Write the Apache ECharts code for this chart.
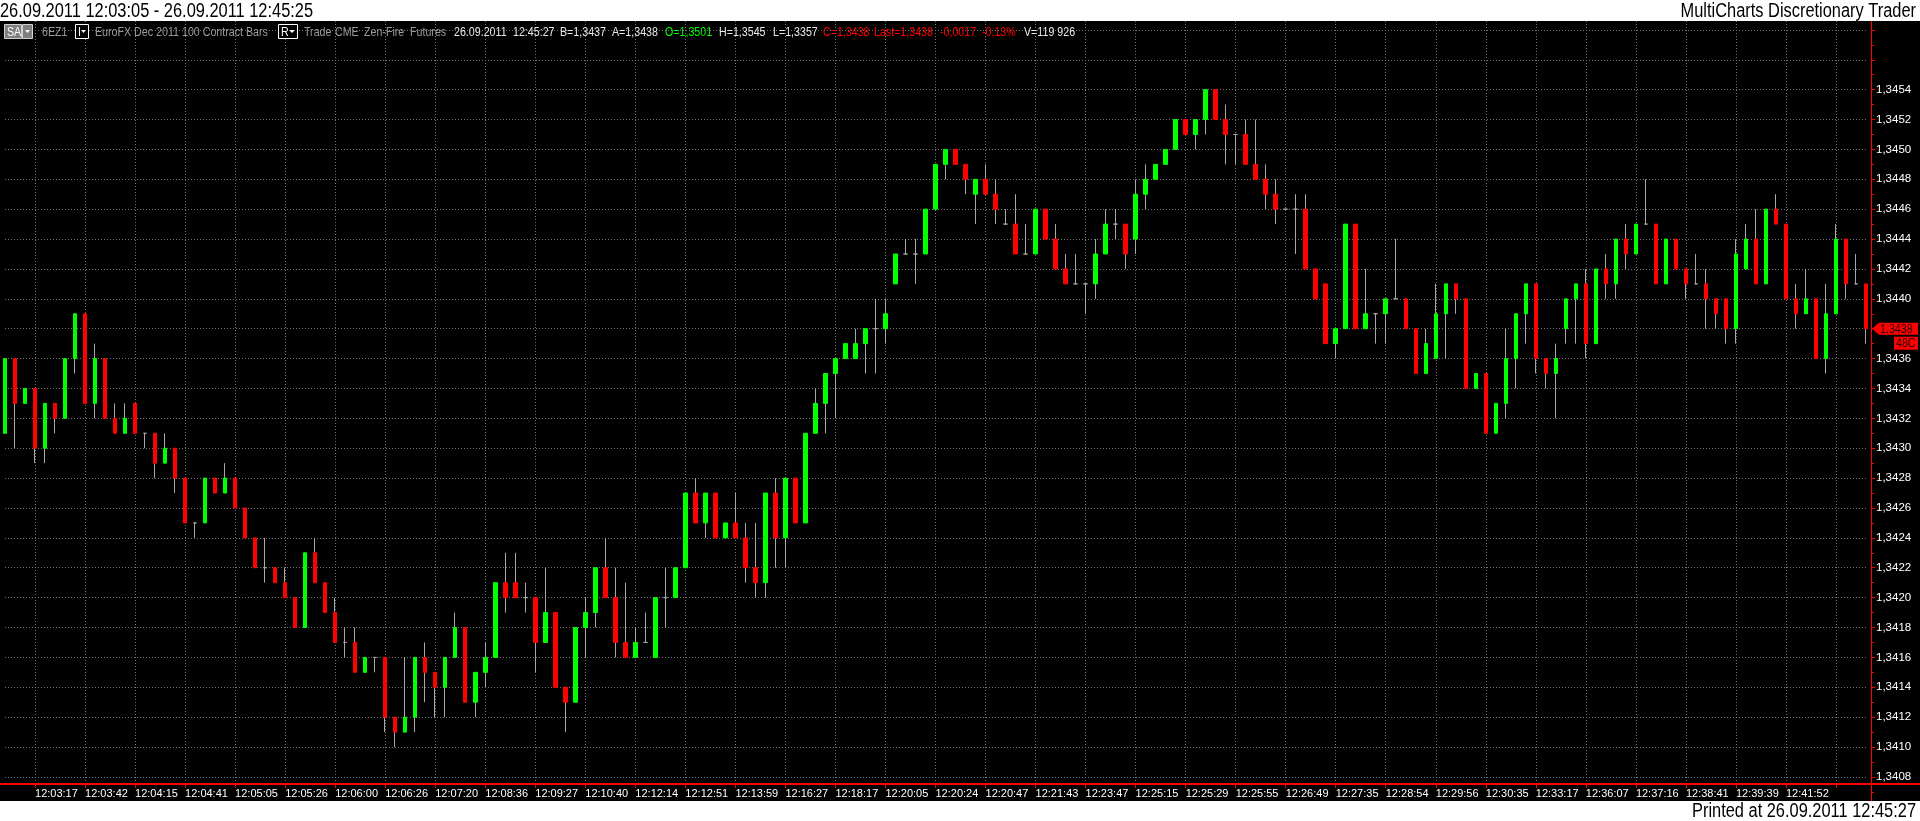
<!DOCTYPE html>
<html><head><meta charset="utf-8">
<script src="https://cdn.jsdelivr.net/npm/echarts@6/dist/echarts.min.js"></script>
<style>html,body{margin:0;padding:0;background:#fff;overflow:hidden}#c{width:1920px;height:821px}</style>
</head><body><div id="c"></div>
<script>
// ---- data (6EZ1, 100 contract bars) ----
const opens = [
1.3431,1.3436,1.3433,1.3434,1.3430,1.3433,1.3432,1.3436,1.3439,1.3433,
1.3436,1.3432,1.3431,1.3433,1.3431,1.3431,1.3429,1.3430,1.3428,1.3425,
1.3425,1.3428,1.3427,1.3428,1.3426,1.3424,1.3422,1.3422,1.3421,1.3420,
1.3418,1.3423,1.3421,1.3419,1.3417,1.3417,1.3415,1.3416,1.3416,1.3412,
1.3411,1.3412,1.3416,1.3415,1.3414,1.3416,1.3418,1.3413,1.3415,1.3416,
1.3421,1.3421,1.3420,1.3420,1.3417,1.3419,1.3414,1.3413,1.3418,1.3419,
1.3422,1.3420,1.3417,1.3416,1.3417,1.3416,1.3420,1.3420,1.3422,1.3427,
1.3425,1.3427,1.3424,1.3425,1.3424,1.3422,1.3421,1.3427,1.3424,1.3428,
1.3425,1.3431,1.3433,1.3435,1.3436,1.3436,1.3437,1.3438,1.3438,1.3441,
1.3443,1.3443,1.3443,1.3446,1.3449,1.3450,1.3449,1.3447,1.3448,1.3447,
1.3445,1.3445,1.3443,1.3443,1.3446,1.3444,1.3442,1.3441,1.3441,1.3441,
1.3443,1.3445,1.3445,1.3444,1.3447,1.3448,1.3449,1.3450,1.3452,1.3451,
1.3452,1.3454,1.3452,1.3451,1.3451,1.3449,1.3448,1.3447,1.3446,1.3446,
1.3446,1.3442,1.3441,1.3437,1.3438,1.3445,1.3438,1.3439,1.3439,1.3440,
1.3440,1.3438,1.3435,1.3436,1.3439,1.3441,1.3440,1.3434,1.3435,1.3431,
1.3433,1.3436,1.3439,1.3441,1.3436,1.3435,1.3438,1.3440,1.3441,1.3437,
1.3442,1.3441,1.3444,1.3443,1.3445,1.3445,1.3441,1.3444,1.3442,1.3441,
1.3441,1.3440,1.3440,1.3438,1.3442,1.3444,1.3441,1.3446,1.3445,1.3440,
1.3439,1.3440,1.3436,1.3439,1.3444,1.3441,1.3441];
const closes = [
1.3436,1.3433,1.3434,1.3430,1.3433,1.3432,1.3436,1.3439,1.3433,1.3436,
1.3432,1.3431,1.3432,1.3431,1.3431,1.3429,1.3430,1.3428,1.3425,1.3425,
1.3428,1.3427,1.3428,1.3426,1.3424,1.3422,1.3422,1.3421,1.3420,1.3418,
1.3423,1.3421,1.3419,1.3417,1.3417,1.3415,1.3416,1.3416,1.3412,1.3411,
1.3412,1.3416,1.3415,1.3414,1.3416,1.3418,1.3413,1.3415,1.3416,1.3421,
1.3420,1.3420,1.3420,1.3417,1.3419,1.3414,1.3413,1.3418,1.3419,1.3422,
1.3420,1.3417,1.3416,1.3417,1.3417,1.3420,1.3420,1.3422,1.3427,1.3425,
1.3427,1.3424,1.3425,1.3424,1.3422,1.3421,1.3427,1.3424,1.3428,1.3425,
1.3431,1.3433,1.3435,1.3436,1.3437,1.3437,1.3438,1.3438,1.3439,1.3443,
1.3443,1.3443,1.3446,1.3449,1.3450,1.3449,1.3448,1.3448,1.3447,1.3446,
1.3445,1.3443,1.3443,1.3446,1.3444,1.3442,1.3441,1.3441,1.3441,1.3443,
1.3445,1.3445,1.3443,1.3447,1.3448,1.3449,1.3450,1.3452,1.3451,1.3452,
1.3454,1.3452,1.3451,1.3451,1.3449,1.3448,1.3447,1.3446,1.3446,1.3446,
1.3442,1.3440,1.3437,1.3438,1.3445,1.3438,1.3439,1.3439,1.3440,1.3440,
1.3438,1.3435,1.3437,1.3439,1.3441,1.3440,1.3434,1.3435,1.3431,1.3433,
1.3436,1.3439,1.3441,1.3436,1.3435,1.3436,1.3440,1.3441,1.3437,1.3442,
1.3441,1.3444,1.3443,1.3445,1.3445,1.3441,1.3444,1.3442,1.3441,1.3441,
1.3440,1.3439,1.3438,1.3443,1.3444,1.3441,1.3446,1.3445,1.3440,1.3439,
1.3440,1.3436,1.3439,1.3444,1.3441,1.3441,1.3438];
const lows = [
1.3431,1.3430,1.3433,1.3429,1.3429,1.3431,1.3432,1.3435,1.3433,1.3432,
1.3432,1.3431,1.3431,1.3431,1.3430,1.3428,1.3429,1.3427,1.3425,1.3424,
1.3425,1.3427,1.3427,1.3426,1.3424,1.3422,1.3421,1.3421,1.3420,1.3418,
1.3418,1.3421,1.3419,1.3417,1.3416,1.3415,1.3415,1.3415,1.3411,1.3410,
1.3411,1.3411,1.3413,1.3412,1.3412,1.3416,1.3413,1.3412,1.3414,1.3416,
1.3419,1.3420,1.3419,1.3415,1.3417,1.3414,1.3411,1.3413,1.3416,1.3418,
1.3420,1.3416,1.3416,1.3416,1.3417,1.3416,1.3418,1.3420,1.3422,1.3425,
1.3424,1.3424,1.3424,1.3424,1.3421,1.3420,1.3420,1.3422,1.3422,1.3425,
1.3425,1.3431,1.3431,1.3432,1.3436,1.3436,1.3435,1.3435,1.3437,1.3441,
1.3443,1.3441,1.3443,1.3446,1.3448,1.3449,1.3447,1.3445,1.3447,1.3445,
1.3445,1.3443,1.3443,1.3443,1.3444,1.3442,1.3441,1.3441,1.3439,1.3440,
1.3443,1.3444,1.3442,1.3443,1.3446,1.3448,1.3449,1.3450,1.3451,1.3450,
1.3451,1.3452,1.3449,1.3449,1.3449,1.3448,1.3446,1.3445,1.3446,1.3443,
1.3442,1.3440,1.3437,1.3436,1.3438,1.3438,1.3438,1.3437,1.3437,1.3440,
1.3438,1.3435,1.3435,1.3436,1.3436,1.3439,1.3434,1.3434,1.3431,1.3431,
1.3432,1.3434,1.3437,1.3435,1.3434,1.3432,1.3437,1.3437,1.3436,1.3437,
1.3440,1.3440,1.3442,1.3443,1.3445,1.3441,1.3441,1.3442,1.3440,1.3441,
1.3438,1.3438,1.3437,1.3437,1.3442,1.3441,1.3441,1.3445,1.3440,1.3438,
1.3439,1.3436,1.3435,1.3439,1.3440,1.3441,1.3437];
const highs = [
1.3436,1.3436,1.3434,1.3434,1.3433,1.3433,1.3436,1.3439,1.3439,1.3437,
1.3436,1.3433,1.3433,1.3433,1.3431,1.3431,1.3431,1.3430,1.3428,1.3425,
1.3428,1.3428,1.3429,1.3428,1.3426,1.3424,1.3424,1.3422,1.3422,1.3420,
1.3423,1.3424,1.3421,1.3420,1.3418,1.3418,1.3416,1.3416,1.3416,1.3412,
1.3416,1.3416,1.3417,1.3415,1.3416,1.3419,1.3418,1.3415,1.3417,1.3421,
1.3423,1.3423,1.3421,1.3420,1.3422,1.3419,1.3414,1.3418,1.3420,1.3422,
1.3424,1.3422,1.3421,1.3418,1.3419,1.3420,1.3422,1.3422,1.3427,1.3428,
1.3427,1.3427,1.3425,1.3427,1.3425,1.3425,1.3427,1.3428,1.3428,1.3428,
1.3431,1.3434,1.3435,1.3436,1.3437,1.3438,1.3438,1.3440,1.3440,1.3443,
1.3444,1.3444,1.3446,1.3449,1.3450,1.3450,1.3449,1.3448,1.3449,1.3448,
1.3446,1.3447,1.3445,1.3446,1.3446,1.3445,1.3443,1.3443,1.3441,1.3444,
1.3446,1.3446,1.3445,1.3448,1.3449,1.3449,1.3450,1.3452,1.3452,1.3452,
1.3454,1.3454,1.3453,1.3451,1.3452,1.3452,1.3449,1.3448,1.3446,1.3447,
1.3447,1.3442,1.3441,1.3438,1.3445,1.3445,1.3442,1.3439,1.3440,1.3444,
1.3440,1.3438,1.3438,1.3441,1.3441,1.3441,1.3440,1.3435,1.3435,1.3433,
1.3438,1.3439,1.3441,1.3441,1.3436,1.3437,1.3440,1.3441,1.3442,1.3442,
1.3443,1.3444,1.3445,1.3445,1.3448,1.3445,1.3444,1.3444,1.3442,1.3443,
1.3442,1.3440,1.3440,1.3444,1.3445,1.3446,1.3446,1.3447,1.3445,1.3441,
1.3442,1.3440,1.3441,1.3445,1.3444,1.3443,1.3441];
// time labels shown every 5th bar, starting at bar index 3
const tickTimes = ['12:03:17','12:03:42','12:04:15','12:04:41','12:05:05','12:05:26','12:06:00','12:06:26',
'12:07:20','12:08:36','12:09:27','12:10:40','12:12:14','12:12:51','12:13:59','12:16:27','12:18:17',
'12:20:05','12:20:24','12:20:47','12:21:43','12:23:47','12:25:15','12:25:29','12:25:55','12:26:49',
'12:27:35','12:28:54','12:29:56','12:30:35','12:33:17','12:36:07','12:37:16','12:38:41','12:39:39','12:41:52'];
const firstTick = 3, tickStep = 5;

const categories = opens.map((_, i) => String(i + 1));
const wickData = opens.map((o, i) => [o, closes[i], lows[i], highs[i]]);
const bodyData = opens.map((o, i) => [o, closes[i], Math.min(o, closes[i]), Math.max(o, closes[i])]);

const SANS = '"Liberation Sans",Arial,sans-serif';
const NARROW_SCALE = 0.82;
const GREEN = '#00ff00', RED = '#ff0000', WICK = '#a8a8a8', GRIDC = '#747474';
const showTick = (i) => i >= firstTick && (i - firstTick) % tickStep === 0;
const fmtPrice = (v) => v.toFixed(4).replace('.', ',');

const chart = echarts.init(document.getElementById('c'), null, {renderer: 'canvas'});
const gridL = 5, gridR = 54;
chart.setOption({
  animation: false,
  backgroundColor: '#000',
  grid: [
    {left: gridL, right: gridR, top: -6.35, bottom: 14.2, containLabel: false},
    {left: gridL, right: gridR, top: 21, bottom: 37, containLabel: false}
  ],
  xAxis: [
    {type: 'category', gridIndex: 0, data: categories, boundaryGap: false, show: false},
    {type: 'category', gridIndex: 1, data: categories, boundaryGap: false,
      axisLine: {show: true, lineStyle: {color: RED, width: 2}},
      axisTick: {show: true, interval: showTick, length: 4, lineStyle: {color: RED}},
      axisLabel: {interval: showTick, align: 'left', margin: 4, color: '#fff',
        fontFamily: SANS, fontSize: 11, showMinLabel: true, showMaxLabel: true,
        formatter: (v, i) => showTick(i) ? tickTimes[(i - firstTick) / tickStep] || '' : ''},
      splitLine: {show: true, interval: showTick, lineStyle: {color: GRIDC, type: [1, 2], width: 1}}
    }
  ],
  yAxis: [
    {type: 'value', gridIndex: 0, position: 'right', offset: 5, min: 1.3406, max: 1.3460, interval: 0.0002,
      axisLine: {show: true, lineStyle: {color: RED, width: 1}},
      axisTick: {show: true, length: 4, lineStyle: {color: RED}},
      minorTick: {show: true, splitNumber: 2, length: 3, lineStyle: {color: RED}},
      axisLabel: {color: '#fff', fontFamily: SANS, fontSize: 11.5, margin: 5,
        formatter: (v) => (v < 1.34065 || v > 1.34545) ? '' : fmtPrice(v)},
      splitLine: {show: true, lineStyle: {color: GRIDC, type: [1, 2], width: 1}}
    },
    {type: 'value', gridIndex: 1, show: false, splitLine: {show: false}}
  ],
  series: [
    {type: 'candlestick', name: 'wick', xAxisIndex: 0, yAxisIndex: 0, data: wickData, barWidth: 1, clip: false,
      itemStyle: {color: WICK, color0: WICK, borderColor: WICK, borderColor0: WICK, borderColorDoji: WICK, borderWidth: 1}},
    {type: 'candlestick', name: '6EZ1', xAxisIndex: 0, yAxisIndex: 0, data: bodyData, barWidth: 4, clip: false,
      itemStyle: {color: GREEN, color0: RED, borderColor: GREEN, borderColor0: RED, borderColorDoji: WICK, borderWidth: 1}}
  ]
});

const lastClose = closes[closes.length - 1];
const yLast = chart.convertToPixel({yAxisIndex: 0}, lastClose);
const axisX = chart.convertToPixel({xAxisIndex: 0}, categories[categories.length - 1]) + 5;

// narrow text (Arial Narrow look) = Liberation Sans squeezed horizontally
function txt(x, y, s, color, size, align) {
  return {type: 'text', z: 110, x: x, y: y, scaleX: NARROW_SCALE, scaleY: 1,
    style: {text: s, x: 0, y: 0, fill: color, font: size + 'px ' + SANS,
      align: align || 'left', textAlign: align || 'left', verticalAlign: 'middle', textVerticalAlign: 'middle'}};
}
const TB = 32, GRAY = '#9a9a9a', WHITE = '#e8e8e8';
const graphics = [
  {type: 'rect', z: 100, shape: {x: 0, y: 0, width: 1920, height: 21}, style: {fill: '#fff'}},
  {type: 'rect', z: 100, shape: {x: 0, y: 801, width: 1920, height: 20}, style: {fill: '#fff'}},
  {type: 'line', z: 105, shape: {x1: 0, y1: 784, x2: 1920, y2: 784}, style: {stroke: RED, lineWidth: 2}},
  {type: 'line', z: 105, shape: {x1: axisX + 0.5, y1: 21, x2: axisX + 0.5, y2: 801}, style: {stroke: RED, lineWidth: 1}},
  txt(0, 11, '26.09.2011 12:03:05 - 26.09.2011 12:45:25', '#000', 20),
  txt(1916, 11, 'MultiCharts Discretionary Trader', '#000', 20, 'right'),
  txt(1916, 811, 'Printed at 26.09.2011 12:45:27', '#000', 20, 'right'),
  // toolbar
  {type: 'rect', z: 106, shape: {x: 4.5, y: 24.5, width: 17, height: 14}, style: {fill: '#808080', stroke: '#d0d0d0'}},
  txt(7, TB, 'SA', '#fff', 13),
  {type: 'rect', z: 106, shape: {x: 22.5, y: 24.5, width: 10, height: 14}, style: {fill: '#808080', stroke: '#d0d0d0'}},
  {type: 'polygon', z: 110, shape: {points: [[25, 30], [30, 30], [27.5, 33]]}, style: {fill: '#fff'}},
  txt(42, TB, '6EZ1', GRAY, 13),
  {type: 'rect', z: 106, shape: {x: 75.5, y: 24.5, width: 13, height: 14}, style: {fill: '#000', stroke: '#fff'}},
  txt(78, TB, 'I', '#fff', 13),
  {type: 'polygon', z: 110, shape: {points: [[81, 30], [86, 30], [83.5, 33]]}, style: {fill: '#fff'}},
  txt(95, TB, 'EuroFX Dec 2011', GRAY, 13),
  txt(182, TB, '100 Contract Bars', GRAY, 13),
  {type: 'rect', z: 106, shape: {x: 278.5, y: 24.5, width: 19, height: 14}, style: {fill: '#000', stroke: '#fff'}},
  txt(281, TB, 'R', '#fff', 13),
  {type: 'polygon', z: 110, shape: {points: [[289, 30], [295, 30], [292, 33]]}, style: {fill: '#fff'}},
  txt(304, TB, 'Trade', GRAY, 13),
  txt(335, TB, 'CME', GRAY, 13),
  txt(364, TB, 'Zen-Fire', GRAY, 13),
  txt(410, TB, 'Futures', GRAY, 13),
  txt(454, TB, '26.09.2011', WHITE, 13),
  txt(513, TB, '12:45:27', WHITE, 13),
  txt(560, TB, 'B=1,3437', WHITE, 13),
  txt(612, TB, 'A=1,3438', WHITE, 13),
  txt(665, TB, 'O=1,3501', GREEN, 13),
  txt(719, TB, 'H=1,3545', WHITE, 13),
  txt(773, TB, 'L=1,3357', WHITE, 13),
  txt(823, TB, 'C=' + fmtPrice(lastClose), RED, 13),
  txt(874, TB, 'Last=' + fmtPrice(lastClose), RED, 13),
  txt(940, TB, '-0,0017', RED, 13),
  txt(982, TB, '-0,13%', RED, 13),
  txt(1024, TB, 'V=119 926', WHITE, 13),
  // last price tag
  {type: 'polygon', z: 106, shape: {points: [[axisX + 1, yLast], [axisX + 8, yLast - 6], [1918, yLast - 6], [1918, yLast + 6], [axisX + 8, yLast + 6]]},
    style: {fill: RED}},
  txt(axisX + 9, yLast + 0.5, fmtPrice(lastClose), '#2a0000', 13),
  {type: 'rect', z: 106, shape: {x: 1894, y: yLast + 8, width: 24, height: 13}, style: {fill: RED}},
  txt(1896, yLast + 14.5, '48C', '#2a0000', 13)
];
chart.setOption({graphic: graphics});
</script>
</body></html>
